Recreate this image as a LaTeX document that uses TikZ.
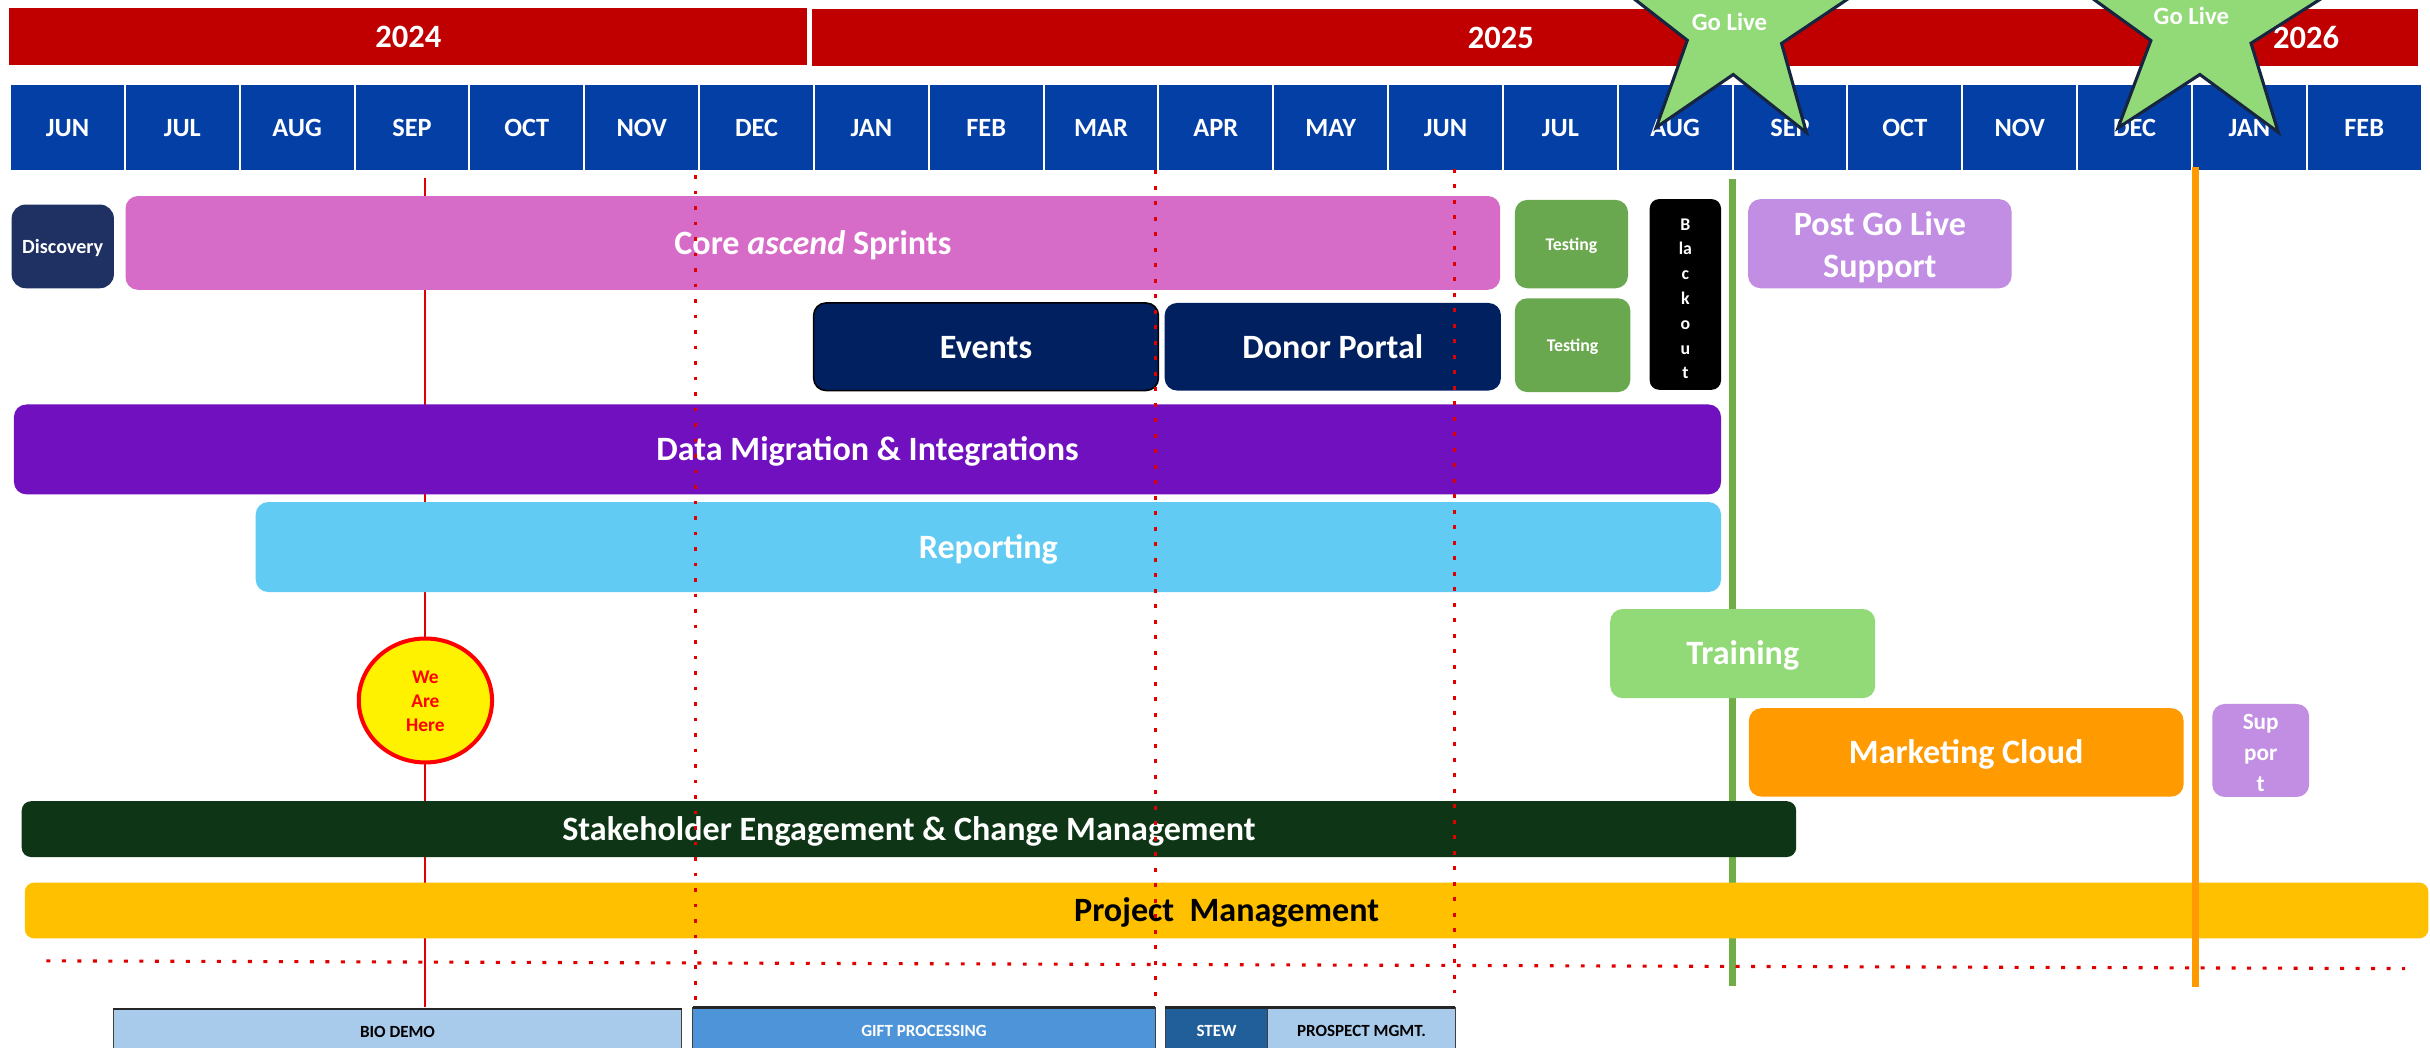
\documentclass[tikz,border=0pt]{standalone}
\usepackage{fontspec}
\setmainfont{Carlito}
\usetikzlibrary{shapes.geometric}

\definecolor{yearred}{RGB}{192,0,0}
\definecolor{monthblue}{RGB}{3,63,165}
\definecolor{discnavy}{RGB}{31,49,99}
\definecolor{sprintpink}{RGB}{214,108,200}
\definecolor{testgreen}{RGB}{106,168,79}
\definecolor{livepurple}{RGB}{193,142,228}
\definecolor{deepnavy}{RGB}{0,32,96}
\definecolor{migpurple}{RGB}{112,16,190}
\definecolor{repblue}{RGB}{97,203,243}
\definecolor{trainlime}{RGB}{146,217,120}
\definecolor{mcorange}{RGB}{255,154,0}
\definecolor{forest}{RGB}{14,53,21}
\definecolor{pmgold}{RGB}{255,192,0}
\definecolor{golivegreen}{RGB}{112,173,71}
\definecolor{starfill}{RGB}{146,217,120}
\definecolor{starline}{RGB}{22,38,64}
\definecolor{paleblue}{RGB}{169,203,235}
\definecolor{midblue}{RGB}{77,148,217}
\definecolor{stewblue}{RGB}{33,95,155}
\definecolor{markred}{RGB}{225,0,0}

% box given by its corners: name, x1, y1, x2, y2, style, text
\newcommand{\tlbox}[7]{%
  \node[#6, minimum width={#4-#2}, minimum height={#5-#3}] (#1)
    at ({(#2+#4)/2},{(#3+#5)/2}) {#7};}

% stacked lines, moved down inside their own extent
\newcommand{\stacklines}[2]{\raisebox{#1}[\height][\depth]{\begin{tabular}{@{}c@{}}#2\end{tabular}}}

% five-pointed star: cx, cy, outer rx, outer ry, inner rx, inner ry, tilt
\newcommand{\golivestar}[7]{%
  \draw[starshape]
    ({#1+#3*cos(-90+#7)},{#2+#4*sin(-90+#7)}) --
    ({#1+#5*cos(-54+#7)},{#2+#6*sin(-54+#7)}) --
    ({#1+#3*cos(-18+#7)},{#2+#4*sin(-18+#7)}) --
    ({#1+#5*cos(18+#7)},{#2+#6*sin(18+#7)}) --
    ({#1+#3*cos(54+#7)},{#2+#4*sin(54+#7)}) --
    ({#1+#5*cos(90+#7)},{#2+#6*sin(90+#7)}) --
    ({#1+#3*cos(126+#7)},{#2+#4*sin(126+#7)}) --
    ({#1+#5*cos(162+#7)},{#2+#6*sin(162+#7)}) --
    ({#1+#3*cos(198+#7)},{#2+#4*sin(198+#7)}) --
    ({#1+#5*cos(234+#7)},{#2+#6*sin(234+#7)}) -- cycle;}

\begin{document}
\begin{tikzpicture}[x=1pt, y=-1pt,
  every node/.style={inner sep=0pt, outer sep=0pt},
  yearbar/.style={text height=15.75pt, text depth=1.7pt, fill=yearred, text=white,
    font=\bfseries\fontsize{21}{25}\selectfont},
  monthcell/.style={text height=12.75pt, text depth=1.4pt, fill=monthblue, draw=white,
    line width=1.3pt, text=white, font=\bfseries\fontsize{17}{20}\selectfont},
  bar/.style={rounded corners=8pt, text=white, align=center,
    font=\bfseries\fontsize{22}{27}\selectfont},
  oneline/.style={bar, text height=16.5pt, text depth=1.8pt},
  slim/.style={oneline, rounded corners=6pt},
  tiny/.style={bar, text height=8.6pt, text depth=0.9pt, font=\bfseries\fontsize{11.5}{14}\selectfont},
  lower/.style={text height=8.25pt, text depth=0.9pt, draw=black!75, line width=0.6pt,
    font=\bfseries\fontsize{11}{13}\selectfont},
  starshape/.style={fill=starfill, draw=starline, line width=2pt, line join=miter},
  dotline/.style={draw=markred, line width=2pt, dash pattern=on 2.5pt off 7.5pt},
  golive/.style={text height=12pt, text depth=1.3pt, text=white, font=\bfseries\fontsize{16}{19}\selectfont}
]
\useasboundingbox (0,0) rectangle (1568,676);
\clip (0,0) rectangle (1568,676);
\fill[white] (0,0) rectangle (1568,676);

% years
\tlbox{y2024}{6}{5}{521}{42}{yearbar}{2024}
\tlbox{y2025}{524}{5.5}{1413}{42.5}{yearbar}{2025}
\tlbox{y2026}{1416}{5.5}{1560}{42.5}{yearbar}{2026}

% months
\foreach \m [count=\i from 0] in {JUN,JUL,AUG,SEP,OCT,NOV,DEC,JAN,FEB,MAR,APR,MAY,JUN,JUL,AUG,SEP,OCT,NOV,DEC,JAN,FEB} {
  \node[monthcell, minimum width=74.1, minimum height=56] (mon\i) at ({6.5+74.1*\i+37.05}, 82.5) {\m};
}

% today marker and go-live line (behind the bars)
\coordinate (nowtop) at (274.4,115);
\coordinate (nowbot) at (274.4,650);
\draw[markred, line width=1.5pt] (nowtop) -- (nowbot);
\coordinate (livetop) at (1117.8,115.5);
\coordinate (livebot) at (1117.8,636);
\draw[golivegreen, line width=4.5pt] (livetop) -- (livebot);

% workstreams
\tlbox{disc}{7.5}{132}{73.5}{186}{bar, rounded corners=9pt, fill=discnavy, text height=9.75pt, text depth=1pt, font=\bfseries\fontsize{13}{15}\selectfont}{Discovery}
\tlbox{core}{81}{126.5}{968}{187}{oneline, fill=sprintpink}{Core \textit{ascend} Sprints}
\tlbox{test1}{977.5}{129}{1050.5}{186}{tiny, fill=testgreen}{Testing}
\tlbox{test2}{977.5}{192.5}{1052}{253}{tiny, fill=testgreen}{Testing}
\tlbox{blackout}{1064.5}{128.5}{1110.5}{251.5}{bar, rounded corners=6pt, fill=black, font=\bfseries\fontsize{11.5}{16}\selectfont}{\stacklines{-3.3pt}{B\\la\\c\\k\\o\\u\\t}}
\tlbox{postlive}{1128}{128.5}{1298}{186}{bar, fill=livepurple}{\stacklines{-3pt}{Post Go Live\\Support}}
\tlbox{events}{525}{195.5}{747.5}{252}{oneline, fill=deepnavy, draw=black, line width=1pt}{Events}
\tlbox{donor}{751.5}{195.5}{968.5}{252}{oneline, fill=deepnavy}{Donor Portal}
\tlbox{migr}{9}{261}{1110.5}{319}{oneline, fill=migpurple}{Data Migration \& Integrations}
\tlbox{report}{165}{324}{1110.5}{382}{oneline, fill=repblue}{Reporting}
\tlbox{train}{1039}{393}{1210}{450.5}{oneline, fill=trainlime}{Training}
\tlbox{mcloud}{1128.5}{457}{1409}{514}{oneline, fill=mcorange}{Marketing Cloud}
\tlbox{support}{1427.5}{455.5}{1490}{513}{bar, fill=livepurple, font=\bfseries\fontsize{15}{20}\selectfont}{\stacklines{-2.5pt}{Sup\\por\\t}}
\tlbox{stake}{14}{517}{1159}{553}{slim, fill=forest}{Stakeholder Engagement \& Change Management}
\tlbox{pm}{16}{569.5}{1567}{605.5}{slim, fill=pmgold, text=black}{Project\ \ Management}

% phase boundaries
\coordinate (b1top) at (448.5,113);  \coordinate (b1bot) at (448.5,645);
\coordinate (b2top) at (745.5,110);  \coordinate (b2bot) at (745.5,645);
\coordinate (b3top) at (938.5,109);  \coordinate (b3bot) at (938.5,641);
\draw[dotline] (b1top) -- (b1bot);
\draw[dotline] (b2top) -- (b2bot);
\draw[dotline] (b3top) -- (b3bot);
\coordinate (hl) at (30,620);  \coordinate (hr) at (1552,625);
\draw[dotline] (hl) -- (hr);

% second go-live line
\coordinate (live2top) at (1416.5,108);
\coordinate (live2bot) at (1416.5,637);
\draw[mcorange, line width=4.5pt] (live2top) -- (live2bot);

% we are here
\node[ellipse, fill=yellow, draw=red, line width=2.6pt, minimum width=86, minimum height=80,
  text=red, font=\bfseries\fontsize{12.5}{15.5}\selectfont] (here) at (274.5,452) {\stacklines{-1.5pt}{We\\Are\\Here}};

% go-live stars
\golivestar{1119.5}{17.6}{82.5}{82}{32}{30.5}{2}
\node[golive] (golive1) at (1116,14.5) {Go Live};
\golivestar{1420.5}{17.6}{88}{82}{34}{30.5}{1.7}
\node[golive] (golive2) at (1414,10.5) {Go Live};

% functional areas along the bottom
\tlbox{bio}{73}{651}{440}{680}{lower, fill=paleblue}{BIO DEMO}
\tlbox{gift}{447}{650}{745.5}{680}{lower, fill=midblue, text=white}{GIFT PROCESSING}
\tlbox{stew}{752}{650}{818}{680}{lower, fill=stewblue, text=white}{STEW}
\tlbox{prosp}{818}{650}{939}{680}{lower, fill=paleblue}{PROSPECT MGMT.}
\foreach \b in {bio,gift,stew,prosp}
  \draw[black!85, line width=1.6pt] (\b.north west) -- (\b.north east);
\end{tikzpicture}
\end{document}
